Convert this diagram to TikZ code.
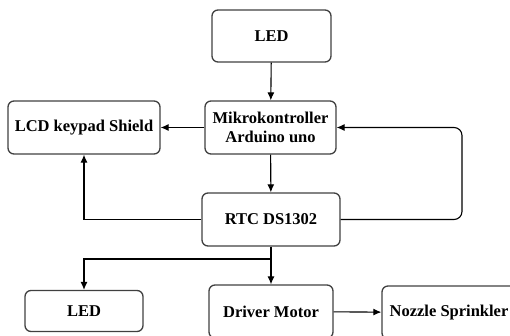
\documentclass[tikz,border=0pt]{standalone}
\usepackage{fontspec}
\setmainfont{Liberation Serif}
\usetikzlibrary{arrows.meta}

\begin{document}
\begin{tikzpicture}[>={Latex[length=8pt,width=7pt]}, x=1pt, y=-1pt, line width=1.1pt]
    \tikzset{blok/.style={draw=black!75, rounded corners=6pt, line width=1.3pt, align=center,
        inner sep=0pt, font=\bfseries\fontsize{16.5}{19}\selectfont}}
    \useasboundingbox (0,0) rectangle (510,335);

    \node[blok, minimum width=119pt, minimum height=52pt] (ledtop) at (271.5,36) {LED};
    \node[blok, minimum width=131pt, minimum height=53pt] (mikro) at (270.5,127.5) {Mikrokontroller\\Arduino uno};
    \node[blok, minimum width=152pt, minimum height=53pt] (lcd) at (84,127.5) {LCD keypad Shield};
    \node[blok, minimum width=138pt, minimum height=53pt] (rtc) at (271,219.5) {RTC DS1302};
    \node[blok, minimum width=118pt, minimum height=41pt] (ledbot) at (84,311) {LED};
    \node[blok, minimum width=124pt, minimum height=53pt] (driver) at (271,311.5) {Driver Motor};
    \node[blok, minimum width=134pt, minimum height=53pt] (nozzle) at (449,312.5) {Nozzle Sprinkler};

    \coordinate (loop) at (462,0);
    \coordinate (split) at (271,259);

    \draw[->] (ledtop) -- (mikro);
    \draw[->] (mikro) -- (lcd);
    \draw[->] (mikro) -- (rtc);
    \draw[->] (rtc.west) -| (lcd.south);
    \draw[->, rounded corners=8pt] (rtc.east) -- (rtc.east -| loop) -- (mikro.east -| loop) -- (mikro.east);
    \draw[->] (rtc.south) -- (driver.north);
    \draw[->] (split) -| (ledbot.north);
    \draw[->] (driver) -- (nozzle);
\end{tikzpicture}
\end{document}
